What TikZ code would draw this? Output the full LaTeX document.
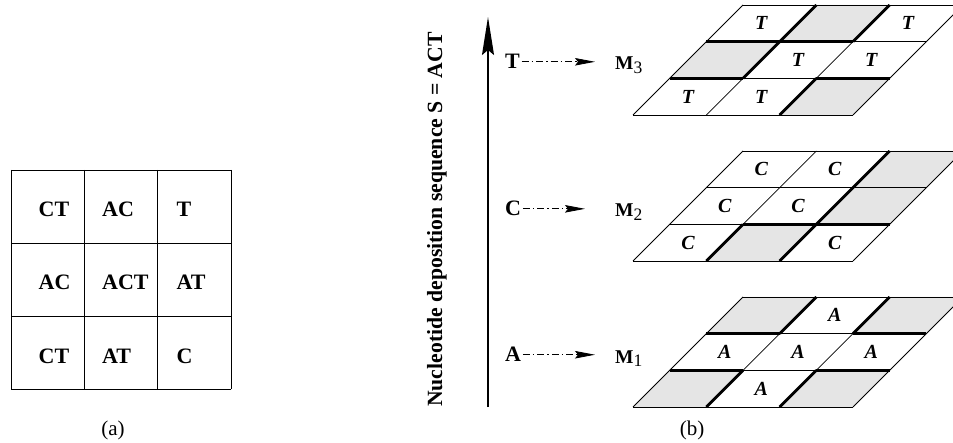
\documentclass[tikz,border=0pt]{standalone}
\usepackage{fontspec}
\setmainfont{Liberation Serif}
\usetikzlibrary{arrows.meta}
\begin{document}
\begin{tikzpicture}[x=1pt,y=-1pt,
  gridline/.style={line width=0.9pt},
  thinline/.style={line width=0.8pt},
  thickline/.style={line width=2.8pt},
  shade/.style={fill=black!10},
  celltxt/.style={font=\fontsize{20}{20}\selectfont\bfseries\itshape, inner sep=0pt},
  atxt/.style={font=\fontsize{22}{22}\selectfont\bfseries, inner sep=0pt, anchor=base west},
  nuc/.style={font=\fontsize{22}{22}\selectfont\bfseries, inner sep=1.5pt, anchor=base west},
  mlab/.style={font=\fontsize{19.5}{20}\selectfont\bfseries, inner sep=0pt, anchor=base west},
  captxt/.style={font=\fontsize{21}{21}\selectfont, inner sep=0pt},
  dasharrow/.style={line width=0.8pt, dash pattern=on 7pt off 3pt on 1.5pt off 3pt,
     -{Stealth[length=20pt,width=7.5pt,inset=3pt]}, shorten >=20pt}
]
\useasboundingbox (0,0) rectangle (953,443);

% ---------- (a) ----------
\foreach \x in {11,84,157,231} \draw[gridline] (\x,170) -- (\x,389);
\foreach \y in {170,243,316,389} \draw[gridline] (11,\y) -- (231,\y);
\node[atxt] (a00) at (38.5,217) {CT};
\node[atxt] (a01) at (102,217) {AC};
\node[atxt] (a02) at (176.5,217) {T};
\node[atxt] (a10) at (38.5,290) {AC};
\node[atxt] (a11) at (102,290) {ACT};
\node[atxt] (a12) at (176.5,290) {AT};
\node[atxt] (a20) at (38.5,363) {CT};
\node[atxt] (a21) at (102,363) {AT};
\node[atxt] (a22) at (176.5,363) {C};
\node[captxt] (capa) at (113,430) {(a)};

% ---------- (b) axis ----------
\coordinate (axbot) at (488,407);
\coordinate (axtop) at (488,17);
\draw[line width=1.8pt, -{Stealth[length=38pt,width=12pt,inset=5pt]}] (axbot) -- (axtop);
\node[font=\fontsize{21.7}{21.7}\selectfont\bfseries, inner sep=0pt, rotate=90, anchor=base east] (seq) at (442,32)
  {Nucleotide deposition sequence S = ACT};

\node[nuc] (nT) at (503.5,69) {T};
\node[nuc] (nC) at (503.5,216) {C};
\node[nuc] (nA) at (503.5,362) {A};
\node[mlab] (M3) at (615,70) {M\raisebox{-4pt}{\mdseries\fontsize{17.5}{18}\selectfont 3}};
\node[mlab] (M2) at (615,217) {M\raisebox{-4pt}{\mdseries\fontsize{17.5}{18}\selectfont 2}};
\node[mlab] (M1) at (615,363) {M\raisebox{-4pt}{\mdseries\fontsize{17.5}{18}\selectfont 1}};
\draw[dasharrow] (nT.east) -- (nT.east -| M3.west);
\draw[dasharrow, shorten >=30pt] (nC.east) -- (nC.east -| M2.west);
\draw[dasharrow] (nA.east) -- (nA.east -| M1.west);

% ---------- M3 ----------
\begin{scope}[shift={(633,115)}]
\begin{scope}[x={(73.333pt,0pt)}, y={(36.667pt,36.667pt)}]
  \foreach \i/\j in {1/2,0/1,2/0} \fill[shade] (\i,\j) -- ++(1,0) -- ++(0,1) -- ++(-1,0) -- cycle;
  \foreach \k in {0,1,2,3} {\draw[thinline] (\k,0) -- (\k,3); \draw[thinline] (0,\k) -- (3,\k);}
  \draw[thickline] (1,2) -- (1,3);
  \draw[thickline] (2,2) -- (2,3);
  \draw[thickline] (1,1) -- (1,2);
  \draw[thickline] (2,0) -- (2,1);
  \draw[thickline] (0,2) -- (2,2);
  \draw[thickline] (0,1) -- (1,1);
  \draw[thickline] (2,1) -- (3,1);
  \foreach \i/\j in {0/2,2/2,1/1,2/1,0/0,1/0} \node[celltxt] (t\i\j) at (\i+0.5,\j+0.5) {T};
\end{scope}
\end{scope}

% ---------- M2 ----------
\begin{scope}[shift={(633,261)}]
\begin{scope}[x={(73.333pt,0pt)}, y={(36.667pt,36.667pt)}]
  \foreach \i/\j in {2/2,2/1,1/0} \fill[shade] (\i,\j) -- ++(1,0) -- ++(0,1) -- ++(-1,0) -- cycle;
  \foreach \k in {0,1,2,3} {\draw[thinline] (\k,0) -- (\k,3); \draw[thinline] (0,\k) -- (3,\k);}
  \draw[thickline] (2,1) -- (2,3);
  \draw[thickline] (1,0) -- (1,1);
  \draw[thickline] (2,0) -- (2,1);
  \draw[thickline] (1,1) -- (3,1);
  \foreach \i/\j in {0/2,1/2,0/1,1/1,0/0,2/0} \node[celltxt] (c\i\j) at (\i+0.5,\j+0.5) {C};
\end{scope}
\end{scope}

% ---------- M1 ----------
\begin{scope}[shift={(633,407)}]
\begin{scope}[x={(73.333pt,0pt)}, y={(36.667pt,36.667pt)}]
  \foreach \i/\j in {0/2,2/2,0/0,2/0} \fill[shade] (\i,\j) -- ++(1,0) -- ++(0,1) -- ++(-1,0) -- cycle;
  \foreach \k in {0,1,2,3} {\draw[thinline] (\k,0) -- (\k,3); \draw[thinline] (0,\k) -- (3,\k);}
  \draw[thickline] (1,2) -- (1,3);
  \draw[thickline] (2,2) -- (2,3);
  \draw[thickline] (1,0) -- (1,1);
  \draw[thickline] (2,0) -- (2,1);
  \draw[thickline] (0,2) -- (1,2);
  \draw[thickline] (2,2) -- (3,2);
  \draw[thickline] (0,1) -- (1,1);
  \draw[thickline] (2,1) -- (3,1);
  \foreach \i/\j in {1/2,0/1,1/1,2/1,1/0} \node[celltxt] (s\i\j) at (\i+0.5,\j+0.5) {A};
\end{scope}
\end{scope}

\node[captxt] (capb) at (692,430) {(b)};
\end{tikzpicture}
\end{document}
